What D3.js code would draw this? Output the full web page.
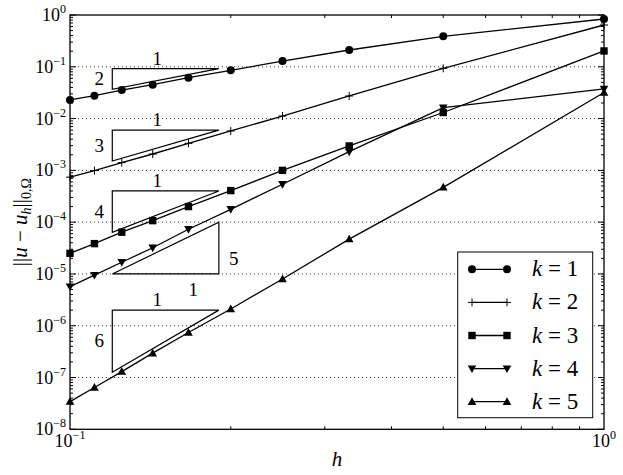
<!DOCTYPE html>
<html>
<head>
<meta charset="utf-8">
<script src="https://cdn.jsdelivr.net/npm/d3@7"></script>
</head>
<body>
<script>
// Mesh sizes and L2 errors per polynomial degree.
const hValues = [1/10, 1/9, 1/8, 1/7, 1/6, 1/5, 1/4, 1/3, 1/2, 1];
const errK1 = [0.0229, 0.0277, 0.0356, 0.0452, 0.0616, 0.0855, 0.129, 0.211, 0.387, 0.837];
const errK2 = [7.4e-4, 9.9e-4, 1.41e-3, 2.07e-3, 3.33e-3, 5.76e-3, 0.0112, 0.0273, 0.0935, 0.641];
const errK3 = [2.5e-5, 3.85e-5, 6.4e-5, 1.07e-4, 2.0e-4, 4.07e-4, 1.0e-3, 2.96e-3, 0.0131, 0.202];
const errK4 = [5.7e-6, 9.5e-6, 1.68e-5, 3.2e-5, 7.3e-5, 1.77e-4, 5.4e-4, 2.3e-3, 0.0162, 0.0375];
const errK5 = [3.43e-8, 6.4e-8, 1.3e-7, 2.95e-7, 7.4e-7, 2.1e-6, 8.0e-6, 4.7e-5, 4.7e-4, 0.0318];
const seriesNumbers = ["1", "2", "3", "4", "5"];
const seriesMarkers = ["circle", "plus", "square", "down", "up"];

// Slope triangles: orders and anchor value (top edge, or bottom edge when flipped).
const slopeOrders = [2, 3, 4, 5, 6];
const slopeAnchors = [0.092, 6.0e-3, 4.0e-4, 1.0e-5, 2.0e-6];
const slopeFlipped = [false, false, false, true, false];
const slopeH0 = 0.12;
const slopeH1 = 0.19;

const xTickValues = [0.1, 1];
const xTickExps = ["−1", "0"];
const yTickValues = [1, 1e-1, 1e-2, 1e-3, 1e-4, 1e-5, 1e-6, 1e-7, 1e-8];
const yTickExps = ["0", "−1", "−2", "−3", "−4", "−5", "−6", "−7", "−8"];

const width = 623, height = 475;
const plotLeft = 70, plotRight = 604, plotTop = 15, plotBottom = 429.3;
const fontName = "Liberation Serif, Times New Roman, serif";

d3.select("body").style("margin", "0px").style("background", "#fff");

const svg = d3.select("body").append("svg")
    .attr("width", width)
    .attr("height", height)
    .attr("font-family", fontName)
    .style("display", "block");

function addText(g) {
  return g.append("text")
    .attr("font-family", fontName)
    .style("font-family", fontName)
    .attr("fill", "#000");
}

// lay out a run of plain text pieces side by side (no tspans)
function textRun(g, parts, x0, y0, anchor, size) {
  let pieces = [];
  let cursor = 0;
  for (let p of parts) {
    let el = addText(g)
      .attr("x", 0)
      .attr("y", y0 + (p.dy || 0))
      .attr("font-size", p.size || size)
      .attr("font-style", p.italic ? "italic" : "normal")
      .text(p.t);
    let w = el.node().getComputedTextLength();
    pieces.push({el: el, off: cursor});
    cursor += w + (p.gap || 0);
  }
  let start = x0;
  if (anchor === "end") start = x0 - cursor;
  if (anchor === "middle") start = x0 - cursor / 2;
  for (let piece of pieces) {
    piece.el.attr("x", start + piece.off);
  }
}

const x = d3.scaleLog().domain([0.1, 1]).range([plotLeft, plotRight]);
const y = d3.scaleLog().domain([1e-8, 1]).range([plotBottom, plotTop]);

// dotted horizontal grid
svg.append("g")
  .selectAll("line")
  .data(yTickValues.slice(1, -1))
  .enter().append("line")
    .attr("x1", plotLeft).attr("x2", plotRight)
    .attr("y1", d => y(d)).attr("y2", d => y(d))
    .attr("stroke", "#000")
    .attr("stroke-width", 0.8)
    .attr("stroke-dasharray", "1,3");

// minor ticks
let xMinor = [];
for (let i = 2; i <= 9; i++) xMinor.push(i / 10);
let yMinor = [];
for (let e = -8; e < 0; e++) {
  for (let i = 2; i <= 9; i++) yMinor.push(i * Math.pow(10, e));
}

const ticks = svg.append("g").attr("stroke", "#000").attr("stroke-width", 1);
function tickMarks(values, len, isX) {
  for (let v of values) {
    if (isX) {
      ticks.append("line").attr("x1", x(v)).attr("x2", x(v)).attr("y1", plotBottom).attr("y2", plotBottom - len);
      ticks.append("line").attr("x1", x(v)).attr("x2", x(v)).attr("y1", plotTop).attr("y2", plotTop + len);
    } else {
      ticks.append("line").attr("y1", y(v)).attr("y2", y(v)).attr("x1", plotLeft).attr("x2", plotLeft + len);
      ticks.append("line").attr("y1", y(v)).attr("y2", y(v)).attr("x1", plotRight).attr("x2", plotRight - len);
    }
  }
}
tickMarks(xMinor, 3, true);
tickMarks(yMinor, 3, false);
tickMarks(yTickValues, 6, false);

// slope triangles
const triG = svg.append("g");
slopeOrders.forEach((p, i) => {
  const ratio = Math.pow(slopeH0 / slopeH1, p);
  let pts, labels;
  if (!slopeFlipped[i]) {
    const yTop = slopeAnchors[i];
    const yBot = yTop * ratio;
    pts = [[slopeH1, yTop], [slopeH0, yTop], [slopeH0, yBot], [slopeH1, yTop]];
    labels = [
      {t: "1", px: x(slopeH0) + 45, py: y(yTop) - 4},
      {t: String(p), px: x(slopeH0) - 13, py: (y(yTop) + y(yBot)) / 2 + 6}
    ];
  } else {
    const yBot = slopeAnchors[i];
    const yTop = yBot / ratio;
    pts = [[slopeH0, yBot], [slopeH1, yBot], [slopeH1, yTop], [slopeH0, yBot]];
    labels = [
      {t: String(p), px: x(slopeH1) + 15, py: y(yBot) - 9},
      {t: "1", px: x(slopeH0) + 81, py: y(yBot) + 22}
    ];
  }
  triG.append("path")
    .attr("d", d3.line().x(d => x(d[0])).y(d => y(d[1]))(pts))
    .attr("fill", "none")
    .attr("stroke", "#000")
    .attr("stroke-width", 1.2);
  for (let l of labels) {
    addText(triG)
      .attr("x", l.px).attr("y", l.py)
      .attr("text-anchor", "middle")
      .attr("font-size", 19)
      .text(l.t);
  }
});

// series
const allSeries = [errK1, errK2, errK3, errK4, errK5];
const line = d3.line().x((d, i) => x(hValues[i])).y(d => y(d));

function drawMarker(g, kind, cx, cy) {
  if (kind === "circle") {
    g.append("circle").attr("cx", cx).attr("cy", cy).attr("r", 4).attr("fill", "#000");
  } else if (kind === "square") {
    g.append("rect").attr("x", cx - 3.7).attr("y", cy - 3.7).attr("width", 7.4).attr("height", 7.4).attr("fill", "#000");
  } else if (kind === "up") {
    g.append("path").attr("d", `M${cx},${cy - 4.5}L${cx + 4.3},${cy + 3.2}L${cx - 4.3},${cy + 3.2}Z`).attr("fill", "#000");
  } else if (kind === "down") {
    g.append("path").attr("d", `M${cx},${cy + 4.5}L${cx + 4.3},${cy - 3.2}L${cx - 4.3},${cy - 3.2}Z`).attr("fill", "#000");
  } else {
    g.append("path").attr("d", `M${cx - 4},${cy}H${cx + 4}M${cx},${cy - 4}V${cy + 4}`)
      .attr("stroke", "#000").attr("stroke-width", 1);
  }
}

const plotG = svg.append("g");
allSeries.forEach((vals, s) => {
  plotG.append("path")
    .attr("d", line(vals))
    .attr("fill", "none")
    .attr("stroke", "#000")
    .attr("stroke-width", 1.3);
  const mg = plotG.append("g");
  vals.forEach((v, i) => drawMarker(mg, seriesMarkers[s], x(hValues[i]), y(v)));
});

// frame
svg.append("rect")
  .attr("x", plotLeft).attr("y", plotTop)
  .attr("width", plotRight - plotLeft).attr("height", plotBottom - plotTop)
  .attr("fill", "none")
  .attr("stroke", "#000")
  .attr("stroke-width", 1.3);

// tick labels
const tickG = svg.append("g");
yTickValues.forEach((v, i) => {
  textRun(tickG, [{t: "10"}, {t: yTickExps[i], size: 12, dy: -8}], plotLeft - 4, y(v) + 6, "end", 18);
});
xTickValues.forEach((v, i) => {
  textRun(tickG, [{t: "10"}, {t: xTickExps[i], size: 12, dy: -8}], x(v), plotBottom + 18, "middle", 18);
});

// axis labels
addText(svg)
  .attr("x", (plotLeft + plotRight) / 2).attr("y", 466)
  .attr("text-anchor", "middle")
  .attr("font-size", 21)
  .attr("font-style", "italic")
  .text("h");

const ylG = svg.append("g")
  .attr("transform", `translate(27,${(plotTop + plotBottom) / 2}) rotate(-90)`);
textRun(ylG, [
  {t: "||"},
  {t: "u", italic: true},
  {t: "\u00a0−\u00a0"},
  {t: "u", italic: true},
  {t: "h", italic: true, size: 14, dy: 4},
  {t: "||"},
  {t: "0,Ω", size: 14, dy: 4}
], 0, 0, "middle", 21);

// legend
const lg = svg.append("g");
lg.append("rect")
  .attr("x", 457.7).attr("y", 252)
  .attr("width", 135).attr("height", 165.7)
  .attr("fill", "#fff")
  .attr("stroke", "#000")
  .attr("stroke-width", 1);
seriesNumbers.forEach((num, s) => {
  const cy = 269.3 + s * 33.1;
  lg.append("line")
    .attr("x1", 472).attr("x2", 507)
    .attr("y1", cy).attr("y2", cy)
    .attr("stroke", "#000").attr("stroke-width", 1.3);
  drawMarker(lg, seriesMarkers[s], 472, cy);
  drawMarker(lg, seriesMarkers[s], 507, cy);
  textRun(lg, [{t: "k", italic: true}, {t: "\u00a0=\u00a0" + num}], 532, cy + 7, "start", 23);
});
</script>
</body>
</html>
